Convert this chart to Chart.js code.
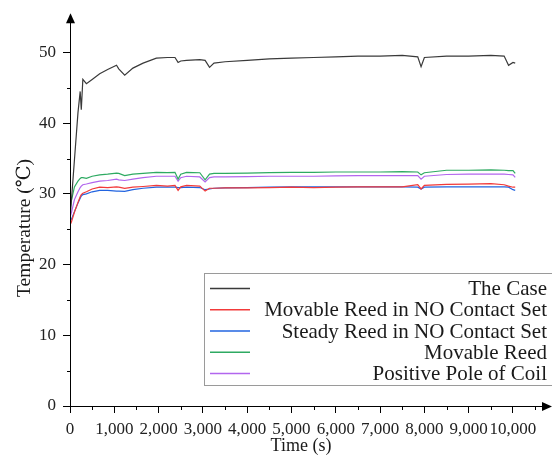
<!DOCTYPE html>
<html>
<head>
<meta charset="utf-8">
<script src="https://cdn.jsdelivr.net/npm/chart.js@4"></script>
<style>
html,body{margin:0;padding:0;background:#fff;}
#c{display:block;}
</style>
</head>
<body>
<canvas id="c" width="552" height="461"></canvas>
<script>
const time = [0, 30, 100, 180, 230, 255, 290, 370, 500, 670,
  850, 1050, 1100, 1235, 1420, 1650, 1950, 2200, 2370, 2440,
  2500, 2630, 2930, 3050, 3150, 3250, 3500, 4000, 4500, 5000,
  5500, 6000, 6500, 7000, 7500, 7850, 7925, 8000, 8500, 9000,
  9500, 9800, 9900, 10000, 10050];

const theCase = [26.5, 28.9, 34.8, 41.5, 44.5, 41.9, 46.2, 45.6, 46.2, 47.0,
  47.6, 48.2, 47.7, 46.8, 47.8, 48.5, 49.2, 49.3, 49.3, 48.6,
  48.8, 48.9, 49.0, 48.9, 47.9, 48.5, 48.7, 48.9, 49.1, 49.2,
  49.3, 49.4, 49.5, 49.5, 49.6, 49.4, 48.0, 49.3, 49.5, 49.5,
  49.6, 49.5, 48.2, 48.6, 48.5];

const movableReedNO = [25.6, 26.0, 27.4, 28.8, 29.6, 29.9, 30.1, 30.3, 30.7, 30.95,
  30.9, 31.0, 30.95, 30.8, 30.95, 31.05, 31.2, 31.1, 31.2, 30.5,
  31.0, 31.2, 31.1, 30.4, 30.8, 30.8, 30.85, 30.85, 30.9, 30.95,
  30.9, 30.95, 31.0, 31.0, 31.0, 31.3, 30.7, 31.2, 31.35, 31.4,
  31.45, 31.3, 31.1, 30.95, 30.95];

const steadyReedNO = [26.2, 26.4, 27.5, 28.7, 29.4, 29.7, 29.9, 30.0, 30.3, 30.5,
  30.5, 30.4, 30.4, 30.35, 30.6, 30.8, 30.95, 30.95, 30.95, 30.9,
  30.9, 30.95, 30.9, 30.6, 30.7, 30.8, 30.85, 30.9, 30.95, 31.0,
  31.0, 31.0, 31.0, 31.0, 31.0, 30.95, 30.7, 30.95, 31.0, 31.0,
  31.0, 31.0, 30.95, 30.6, 30.5];

const movableReed = [27.8, 29.0, 31.0, 31.8, 32.2, 32.3, 32.3, 32.2, 32.5, 32.7,
  32.8, 32.95, 32.9, 32.6, 32.8, 32.9, 33.05, 33.0, 33.05, 32.1,
  32.8, 33.05, 33.0, 32.0, 32.8, 32.9, 32.9, 32.95, 33.0, 33.05,
  33.05, 33.1, 33.1, 33.1, 33.15, 33.1, 32.7, 33.0, 33.35, 33.35,
  33.4, 33.35, 33.3, 33.3, 32.9];

const positivePole = [26.7, 27.3, 29.2, 30.3, 30.9, 31.1, 31.3, 31.4, 31.6, 31.8,
  31.9, 32.1, 32.0, 31.9, 32.1, 32.3, 32.5, 32.5, 32.5, 31.8,
  32.3, 32.5, 32.4, 31.7, 32.3, 32.4, 32.4, 32.45, 32.5, 32.5,
  32.5, 32.55, 32.6, 32.6, 32.6, 32.6, 32.1, 32.5, 32.75, 32.8,
  32.8, 32.8, 32.75, 32.7, 32.35];

const xTickValues = [0, 1000, 2000, 3000, 4000, 5000, 6000, 7000, 8000, 9000, 10000];
const yTickValues = [0, 10, 20, 30, 40, 50];
const xMinorTicks = [500, 1500, 2500, 3500, 4500, 5500, 6500, 7500, 8500, 9500, 10500];
const yMinorTicks = [5, 15, 25, 35, 45];

const seriesNames = ["The Case", "Movable Reed in NO Contact Set", "Steady Reed in NO Contact Set", "Movable Reed", "Positive Pole of Coil"];
const seriesValues = [theCase, movableReedNO, steadyReedNO, movableReed, positivePole];
const seriesColors = ["#3a3a3a", "#f23a3a", "#2264e0", "#2eaa62", "#b266ee"];

const xTitle = "Time (s)";
const yTitle = "Temperature (\u2103)";

const SERIF = "'Liberation Serif', 'DejaVu Serif', serif";

const datasets = seriesValues.map((vals, i) => ({
  label: seriesNames[i],
  data: time.map((t, j) => ({x: t, y: vals[j]})),
  borderColor: seriesColors[i],
  borderWidth: 1.2,
  pointRadius: 0,
  tension: 0,
  fill: false
}));

const decor = {
  id: 'decor',
  afterDraw(chart) {
    const ctx = chart.ctx;
    const xs = chart.scales.x, ys = chart.scales.y;
    const x0 = Math.round(xs.getPixelForValue(0)) + 0.5;
    const y0 = Math.round(ys.getPixelForValue(0)) + 0.5;
    const area = chart.chartArea;
    ctx.save();
    ctx.strokeStyle = '#000';
    ctx.fillStyle = '#000';
    ctx.lineWidth = 1;
    ctx.beginPath();
    xMinorTicks.forEach(v => {
      const px = Math.round(xs.getPixelForValue(v)) + 0.5;
      ctx.moveTo(px, y0); ctx.lineTo(px, y0 + 3.5);
    });
    yMinorTicks.forEach(v => {
      const py = Math.round(ys.getPixelForValue(v)) + 0.5;
      ctx.moveTo(x0, py); ctx.lineTo(x0 - 3.5, py);
    });
    ctx.stroke();
    ctx.beginPath();
    ctx.moveTo(x0, y0); ctx.lineTo(x0, area.top);
    ctx.moveTo(x0, y0); ctx.lineTo(area.right, y0);
    ctx.stroke();
    ctx.beginPath();
    ctx.moveTo(x0, area.top - 4);
    ctx.lineTo(x0 - 4.5, area.top + 6);
    ctx.lineTo(x0 + 4.5, area.top + 6);
    ctx.closePath();
    ctx.fill();
    ctx.beginPath();
    ctx.moveTo(area.right + 8, y0);
    ctx.lineTo(area.right - 2, y0 - 4.5);
    ctx.lineTo(area.right - 2, y0 + 4.5);
    ctx.closePath();
    ctx.fill();
    ctx.fillStyle = '#1a1a1a';
    ctx.font = "18px " + SERIF;
    ctx.textAlign = 'center';
    ctx.textBaseline = 'middle';
    ctx.fillText(xTitle, 301, 446);
    ctx.save();
    ctx.font = "19.5px " + SERIF;
    ctx.translate(25, 228);
    ctx.rotate(-Math.PI / 2);
    ctx.fillText(yTitle, 0, 0);
    ctx.restore();
    const bx = 204.5, by = 273.5, bw = 360, bh = 112;
    ctx.fillStyle = '#fff';
    ctx.fillRect(bx, by, bw, bh);
    ctx.strokeStyle = '#9a9a9a';
    ctx.strokeRect(bx, by, bw, bh);
    ctx.font = "21px " + SERIF;
    ctx.textAlign = 'right';
    ctx.textBaseline = 'middle';
    for (let i = 0; i < seriesNames.length; i++) {
      const cy = 288.5 + i * 21.25;
      ctx.strokeStyle = seriesColors[i];
      ctx.lineWidth = 1.3;
      ctx.beginPath();
      ctx.moveTo(210, cy); ctx.lineTo(250, cy);
      ctx.stroke();
      ctx.fillStyle = '#1a1a1a';
      ctx.fillText(seriesNames[i], 547, cy + 1);
    }
    ctx.restore();
  }
};

new Chart(document.getElementById('c'), {
  type: 'line',
  data: { datasets },
  options: {
    responsive: false,
    animation: false,
    devicePixelRatio: 1,
    layout: { padding: { left: 0, right: 8, top: 14, bottom: 0 } },
    plugins: { legend: { display: false }, tooltip: { enabled: false }, title: { display: false } },
    scales: {
      x: {
        type: 'linear',
        min: 0, max: 10700,
        afterBuildTicks: s => { s.ticks = xTickValues.map(v => ({ value: v })); },
        afterFit: s => { s.height = 55; },
        ticks: { autoSkip: false, maxRotation: 0, minRotation: 0, padding: 6, color: '#222', font: { family: SERIF, size: 17 },
                 callback: v => v.toLocaleString('en-US') },
        grid: { display: true, drawOnChartArea: false, drawTicks: true, tickLength: 7, color: '#000' },
        border: { display: false }
      },
      y: {
        type: 'linear',
        min: 0, max: 55,
        afterBuildTicks: s => { s.ticks = yTickValues.map(v => ({ value: v })); },
        afterFit: s => { s.width = 70; },
        ticks: { autoSkip: false, padding: 7, color: '#222', font: { family: SERIF, size: 17 },
                 callback: v => String(v) },
        grid: { display: true, drawOnChartArea: false, drawTicks: true, tickLength: 7, color: '#000' },
        border: { display: false }
      }
    }
  },
  plugins: [decor]
});
</script>
</body>
</html>
